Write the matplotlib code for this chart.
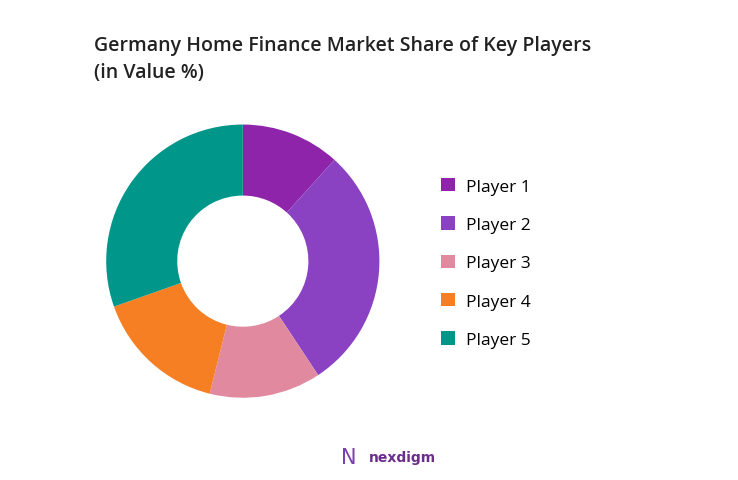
import matplotlib.pyplot as plt

players = ["Player 1", "Player 2", "Player 3", "Player 4", "Player 5"]
shares = [11.7, 29.0, 13.2, 15.7, 30.4]
colors = ["#8e24aa", "#8a42c2", "#e0899f", "#f57f22", "#00968a"]

fig = plt.figure(figsize=(7.38, 4.81), dpi=100)
ax = fig.add_axes([0.094, 0.1, 0.47, 0.71])
wedges, _ = ax.pie(shares, colors=colors, startangle=90, counterclock=False,
                   wedgeprops=dict(width=0.52, edgecolor="white", linewidth=0))
ax.set_aspect("equal")

fig.text(0.127, 0.925, "Germany Home Finance Market Share of Key Players\n(in Value %)",
         fontsize=14, family="Open Sans", weight="semibold", color="#222222",
         va="top", linespacing=1.45)

fig.legend(wedges, players, loc="center left", bbox_to_anchor=(0.577, 0.451),
           frameon=False, handlelength=0.8, handleheight=0.8, handletextpad=0.6,
           labelspacing=1.25, prop={"family": "Open Sans", "size": 12.5})

fig.text(0.5, 0.04, "nexdigm", fontsize=10, color="#6a2d8c", ha="left", weight="bold")
fig.text(0.462, 0.035, "N", fontsize=15, color="#7a3fb0", ha="left")

fig.savefig("out.png", dpi=100)
